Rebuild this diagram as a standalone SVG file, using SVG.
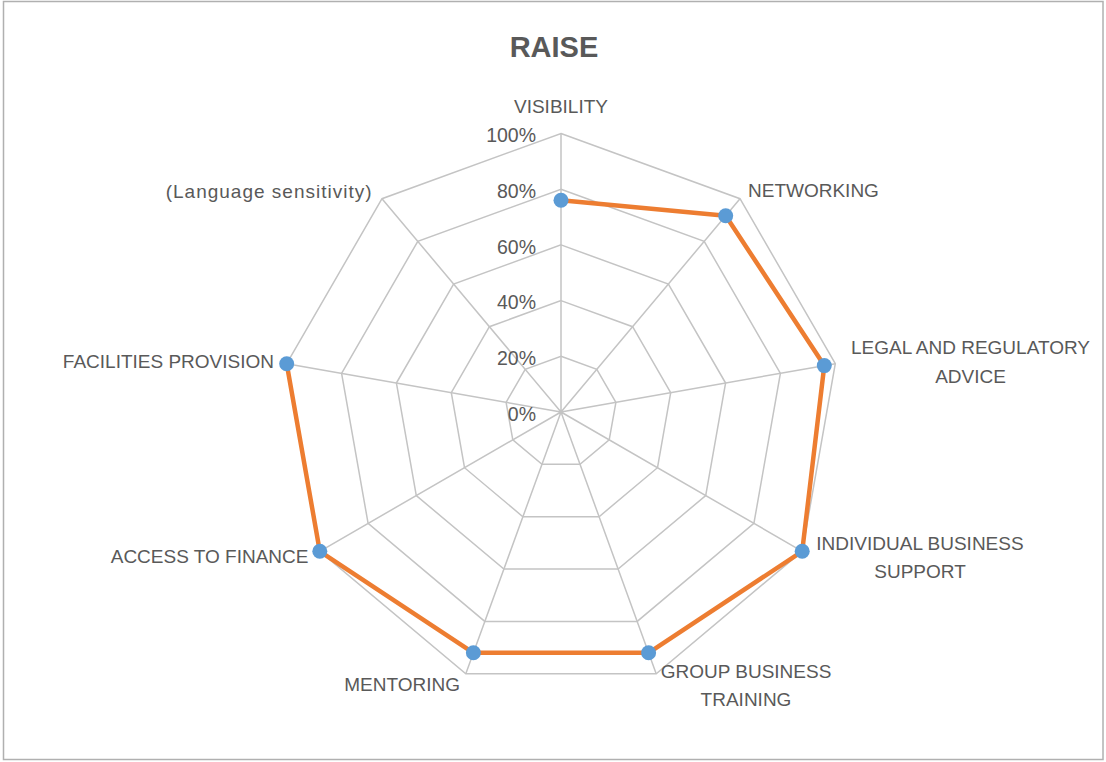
<svg xmlns="http://www.w3.org/2000/svg" width="1106" height="762" viewBox="0 0 1106 762">
<style>
.grid{fill:none;stroke:#c4c4c4;stroke-width:1.5}
.lbl{font-family:"Liberation Sans",Arial,sans-serif;font-size:19px;fill:#595959}
.tick{font-family:"Liberation Sans",Arial,sans-serif;font-size:19.5px;fill:#595959;text-anchor:end}
.mk{fill:#5b9bd5}
</style>
<rect x="0" y="0" width="1106" height="762" fill="#ffffff"/>
<rect x="3.5" y="1.5" width="1099.5" height="758" fill="#ffffff" stroke="#b0b0b0" stroke-width="1.5"/>
<text x="554" y="57" font-family="'Liberation Sans',Arial,sans-serif" font-size="29" font-weight="bold" fill="#595959" text-anchor="middle">RAISE</text>
<g id="grid">
<polygon class="grid" points="561,356.3 596.8,369.3 615.9,402.3 609.2,439.9 580,464.3 542,464.3 512.8,439.9 506.1,402.3 525.2,369.3"/>
<polygon class="grid" points="561,300.6 632.6,326.7 670.7,392.7 657.5,467.7 599.1,516.7 522.9,516.7 464.5,467.7 451.3,392.7 489.4,326.7"/>
<polygon class="grid" points="561,244.9 668.4,284.0 725.6,383.0 705.7,495.6 618.1,569.0 503.9,569.0 416.3,495.6 396.4,383.0 453.6,284.0"/>
<polygon class="grid" points="561,189.2 704.2,241.3 780.4,373.3 753.9,523.4 637.2,621.4 484.8,621.4 368.1,523.4 341.6,373.3 417.8,241.3"/>
<polygon class="grid" points="561,133.5 740.0,198.7 835.3,363.7 802.2,551.3 656.2,673.7 465.8,673.7 319.8,551.3 286.7,363.7 382.0,198.7"/>
<path class="grid" d="M561,412V133.5M561,412L740.0,198.7M561,412L835.3,363.7M561,412L802.2,551.3M561,412L656.2,673.7M561,412L465.8,673.7M561,412L319.8,551.3M561,412L286.7,363.7M561,412L382.0,198.7"/>
</g>
<g id="ticks">
<text class="tick" x="536" y="142.3">100%</text>
<text class="tick" x="536" y="198">80%</text>
<text class="tick" x="536" y="253.7">60%</text>
<text class="tick" x="536" y="309.4">40%</text>
<text class="tick" x="536" y="365">20%</text>
<text class="tick" x="536" y="420.8">0%</text>
</g>
<g id="connectors">
<polyline points="561,200.3 725.7,215.7 824.3,365.6 802.2,551.3 648.6,652.8 473.4,652.8 319.8,551.3 286.7,363.7" fill="none" stroke="#ed7d31" stroke-width="4.5" stroke-linejoin="round" stroke-linecap="round"/>
</g>
<g id="n-visibility"><circle class="mk" cx="561" cy="200.3" r="7.5"/><text class="lbl" x="561" y="113" text-anchor="middle">VISIBILITY</text></g>
<g id="n-networking"><circle class="mk" cx="725.7" cy="215.7" r="7.5"/><text class="lbl" x="748" y="197">NETWORKING</text></g>
<g id="n-legal"><circle class="mk" cx="824.3" cy="365.6" r="7.5"/><text class="lbl" x="970.5" y="354.3" text-anchor="middle">LEGAL AND REGULATORY</text><text class="lbl" x="970.5" y="383.3" text-anchor="middle">ADVICE</text></g>
<g id="n-individual"><circle class="mk" cx="802.2" cy="551.3" r="7.5"/><text class="lbl" x="920" y="550" text-anchor="middle">INDIVIDUAL BUSINESS</text><text class="lbl" x="920" y="578.3" text-anchor="middle">SUPPORT</text></g>
<g id="n-group"><circle class="mk" cx="648.6" cy="652.8" r="7.5"/><text class="lbl" x="746" y="678.3" text-anchor="middle">GROUP BUSINESS</text><text class="lbl" x="746" y="706" text-anchor="middle">TRAINING</text></g>
<g id="n-mentoring"><circle class="mk" cx="473.4" cy="652.8" r="7.5"/><text class="lbl" x="460" y="691" text-anchor="end">MENTORING</text></g>
<g id="n-access"><circle class="mk" cx="319.8" cy="551.3" r="7.5"/><text class="lbl" x="308.5" y="563.3" text-anchor="end">ACCESS TO FINANCE</text></g>
<g id="n-facilities"><circle class="mk" cx="286.7" cy="363.7" r="7.5"/><text class="lbl" x="274" y="368.3" text-anchor="end">FACILITIES PROVISION</text></g>
<g id="n-language"><text class="lbl" x="372.5" y="198.3" text-anchor="end" letter-spacing="1">(Language sensitivity)</text></g>
</svg>
